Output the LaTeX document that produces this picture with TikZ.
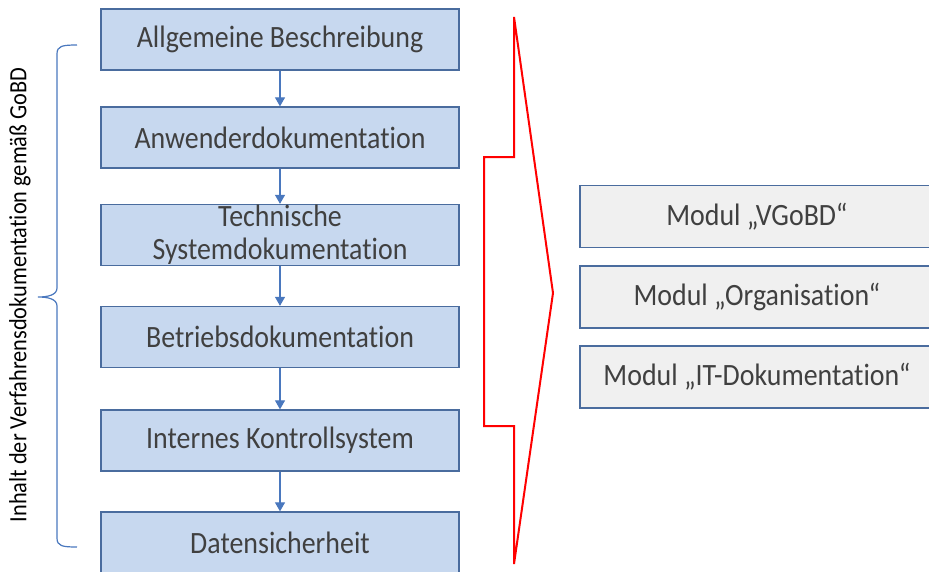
\documentclass[tikz,border=0pt]{standalone}
\usepackage{fontspec}
\setmainfont[Ligatures=NoCommon,FakeStretch=0.9]{Carlito}
\usetikzlibrary{arrows.meta}

\definecolor{boxblue}{HTML}{C7D8EF}
\definecolor{boxgray}{HTML}{F0F0F0}
\definecolor{rimblue}{HTML}{4A6C9E}
\definecolor{arrowblue}{HTML}{4A78BE}
\definecolor{textgray}{HTML}{404040}

\begin{document}
\begin{tikzpicture}[x=1pt,y=-1pt,
    step box/.style={draw=rimblue,line width=1.3pt,fill=boxblue,
        minimum width=358pt,minimum height=61pt,align=center,
        text=textgray,font=\fontsize{31}{33}\selectfont,inner sep=0pt},
    modul box/.style={step box,fill=boxgray,minimum width=354pt,minimum height=62pt},
    flow/.style={draw=arrowblue,line width=1.2pt,-{Triangle[width=10pt,length=9pt]}}]
    \useasboundingbox (0,0) rectangle (929,571);

    % Steps of the documentation:
    \node [step box] (allg)   at (280,39.5)  {Allgemeine Beschreibung};
    \node [step box] (anw)    at (280,137.5) {Anwenderdokumentation};
    \node [step box] (tech)   at (280,235)   {Technische\\Systemdokumentation};
    \node [step box] (betr)   at (280,337)   {Betriebsdokumentation};
    \node [step box] (iks)    at (280,440.5) {Internes Kontrollsystem};
    \node [step box,minimum height=62pt] (daten) at (280,543) {Datensicherheit};

    % Arrows between the steps:
    \draw [flow] (allg) -- (anw);
    \draw [flow] (anw)  -- (tech);
    \draw [flow] (tech) -- (betr);
    \draw [flow] (betr) -- (iks);
    \draw [flow] (iks)  -- (daten);

    % Brace and its label on the left:
    \draw [arrowblue,line width=1.2pt]
        (77,45) .. controls (62,45) and (57,46) .. (57,54) -- (57,288)
        .. controls (57,295) and (48,297) .. (38,297)
        .. controls (48,297) and (57,299) .. (57,306) -- (57,538)
        .. controls (57,546) and (62,547) .. (77,547);
    \node [rotate=90,text=black,font=\fontsize{24.8}{28}\selectfont] (inhalt) at (20,295)
        {Inhalt der Verfahrensdokumentation gemäß GoBD};

    % Red arrow shape:
    \draw [red,line width=2pt,line join=miter]
        (514,17) -- (514,157) -- (484,157) -- (484,426) -- (514,426)
        -- (514,564) -- (553,293) -- cycle;

    % Modules on the right:
    \node [modul box] (vgobd)  at (757,216.5) {Modul „VGoBD“};
    \node [modul box] (orga)   at (757,297)   {Modul „Organisation“};
    \node [modul box] (itdoku) at (757,377)   {Modul „IT-Dokumentation“};
\end{tikzpicture}
\end{document}
